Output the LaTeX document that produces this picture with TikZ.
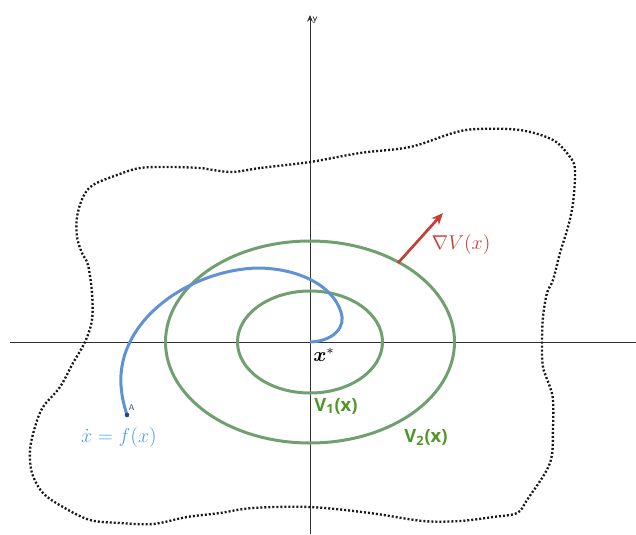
\documentclass[tikz,border=0pt]{standalone}
\usepackage{amsmath,bm}
\usepackage{fontspec}
\newfontfamily\labfont{Open Sans}
\usetikzlibrary{arrows.meta}
\definecolor{axisgray}{RGB}{50,50,50}
\definecolor{levelgreen}{RGB}{112,160,112}
\definecolor{labgreen}{RGB}{80,150,40}
\definecolor{trajblue}{RGB}{95,145,212}
\definecolor{labblue}{RGB}{80,160,240}
\definecolor{gradred}{RGB}{200,60,55}
\definecolor{ptblue}{RGB}{40,70,130}
\tikzset{
  axisline/.style={draw=axisgray, line width=0.6pt},
  levelset/.style={draw=levelgreen, line width=1.8pt},
  traj/.style={draw=trajblue, line width=1.8pt},
  region/.style={draw=black!90, line width=1.4pt, dash pattern=on 1.2pt off 1.2pt},
  gradarrow/.style={draw=gradred, line width=1.6pt, -{Stealth[length=7pt,width=6pt]}},
  greenlab/.style={text=labgreen, font=\labfont\bfseries\fontsize{11}{13}\selectfont},
  mathlab/.style={font=\fontsize{11.5}{14}\selectfont}
}
\begin{document}
\begin{tikzpicture}[x=0.6pt, y=-0.6pt]
\useasboundingbox (0,0) rectangle (636,534);
% axes
\coordinate (xl) at (10,342);
\coordinate (xr) at (636,342);
\coordinate (yb) at (310,534);
\coordinate (yt) at (310,15);
\draw[axisline] (xl) -- (xr);
\draw[axisline, -{Stealth[length=4pt,width=3.5pt]}] (yb) -- (yt);
\node[font=\sffamily\fontsize{6}{7}\selectfont, anchor=west, inner sep=1pt] (ylab) at (310.5,20) {y};
% region boundary
\draw[region] plot[smooth cycle, tension=0.55] coordinates {
 (310,162) (260,168) (233,172) (213,170) (200,168) (170,167) (140,168)
 (117,175) (93,185) (83,197) (77,217) (77,237) (82,253) (88,265)
 (92,293) (92,320) (85,342) (73,363) (60,387) (43,407) (35,427)
 (30,450) (32,473) (43,493) (63,507) (90,520) (120,523) (153,524)
 (187,517) (220,513) (253,508) (310,507) (370,513) (423,521)
 (460,521) (493,517) (517,513) (527,500) (550,463) (553,427)
 (553,400) (550,387) (543,367) (542,343) (543,317) (547,293)
 (553,280) (560,253) (568,227) (573,203) (575,170) (570,157)
 (553,140) (520,130) (477,129) (453,133) (410,147) (360,153) };
% level sets
\coordinate (o) at (310,342);
\draw[levelset] (o) ellipse [x radius=72.5, y radius=51];
\draw[levelset] (o) ellipse [x radius=144.5, y radius=101];
% trajectory
\coordinate (A) at (127,415);
\draw[traj] (o) .. controls (335,341) and (346,326) .. (341,312)
  .. controls (332,284) and (296,268) .. (257,268)
  .. controls (190,270) and (117,320) .. (121,385)
  .. controls (122,400) and (125,408) .. (A);
\fill[ptblue] (A) circle (2.3);
\node[font=\sffamily\fontsize{5}{6}\selectfont, text=ptblue, inner sep=0.3pt] (Alab) at (131.5,408) {A};
% gradient
\coordinate (g0) at (398,263);
\coordinate (g1) at (443,213);
\draw[gradarrow] (g0) -- (g1);
% labels
\node[mathlab, text=gradred] (gradlab) at (461,244) {$\nabla V(x)$};
\node[mathlab] (omega) at (506,104) {$\mathbf{\Omega}$};
\node[mathlab] (xstar) at (324,355) {$\bm{x}^*$};
\node[greenlab] (v1) at (336,406) {V\textsubscript{1}(x)};
\node[greenlab] (v2) at (426,437) {V\textsubscript{2}(x)};
\node[mathlab, text=labblue, inner sep=1pt] (flab) at (119,437) {$\dot{x} = f(x)$};
\end{tikzpicture}
\end{document}
